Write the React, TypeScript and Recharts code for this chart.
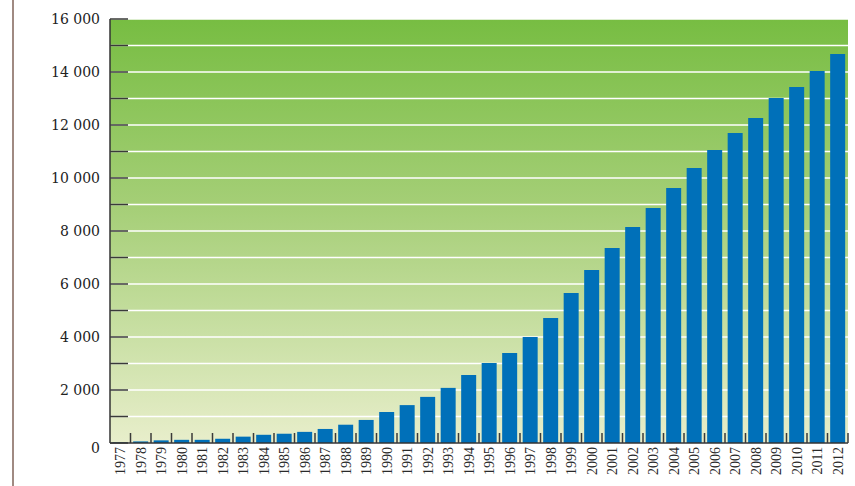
import { BarChart, Bar, XAxis, YAxis, CartesianGrid } from "recharts";

const years = [
  "1977", "1978", "1979", "1980", "1981", "1982", "1983", "1984", "1985", "1986",
  "1987", "1988", "1989", "1990", "1991", "1992", "1993", "1994", "1995", "1996",
  "1997", "1998", "1999", "2000", "2001", "2002", "2003", "2004", "2005", "2006",
  "2007", "2008", "2009", "2010", "2011", "2012",
];

const counts = [
  30, 60, 100, 120, 120, 160, 240, 310, 350, 420,
  530, 690, 870, 1170, 1430, 1740, 2080, 2570, 3020, 3400,
  4000, 4720, 5660, 6530, 7360, 8150, 8870, 9620, 10380, 11060,
  11700, 12260, 13020, 13430, 14040, 14680,
];

const yTicks = [0, 1000, 2000, 3000, 4000, 5000, 6000, 7000, 8000, 9000, 10000, 11000, 12000, 13000, 14000, 15000, 16000];

const data = years.map((y, i) => ({ year: y, value: counts[i] }));

const W = 855;
const H = 486;
const PLOT_LEFT = 110;
const PLOT_RIGHT = 848;
const BAND = (PLOT_RIGHT - PLOT_LEFT) / years.length;

// y axis: tick line inside the plot, label only every 2000
const YTick = (props: any) => {
  const { x, y, payload } = props;
  const v = payload.value as number;
  return (
    <g>
      <line x1={x} x2={x + 18} y1={y} y2={y} stroke="#3a3a3a" strokeWidth={1.5} />
      {v % 2000 === 0 && (
        <text
          x={x - 10}
          y={y + (v === 0 ? 5 : 0)}
          dy="0.35em"
          textAnchor="end"
          fontFamily="DejaVu Serif"
          fontSize={14}
          fill="#222"
        >
          {v === 0 ? "0" : `${Math.floor(v / 1000)} 000`}
        </text>
      )}
    </g>
  );
};

// x axis: small tick between bars, label rotated
const XTick = (props: any) => {
  const { x, y, payload } = props;
  const bx = x + BAND / 2;
  return (
    <g>
      <line x1={bx} x2={bx} y1={y - 10} y2={y} stroke="#3a3a3a" strokeWidth={1.5} />
      <text
        transform={`translate(${x + 5}, ${y + 4}) rotate(-90)`}
        textAnchor="end"
        fontFamily="Liberation Serif"
        fontSize={14}
        fill="#2a2a2a"
      >
        {payload.value}
      </text>
    </g>
  );
};

export default function App() {
  return (
    <div style={{ position: "absolute", left: 0, top: 0, width: W, height: H, background: "#fff" }}>
      <div
        style={{
          position: "absolute",
          left: 12,
          top: 0,
          width: 2,
          height: H,
          background: "#a08a82",
        }}
      />
      <BarChart
        width={W}
        height={H}
        data={data}
        margin={{ top: 19, right: W - PLOT_RIGHT, bottom: 0, left: 10 }}
        barCategoryGap="13%"
      >
        <defs>
          <linearGradient id="bg" x1="0" y1="0" x2="0" y2="1">
            <stop offset="0%" stopColor="#77bd42" />
            <stop offset="45%" stopColor="#a6cf78" />
            <stop offset="100%" stopColor="#e8eecb" />
          </linearGradient>
        </defs>
        <CartesianGrid
          vertical={false}
          stroke="#ffffff"
          strokeWidth={1.5}
          fill="url(#bg)"
          fillOpacity={1}
        />
        <XAxis
          dataKey="year"
          height={43}
          interval={0}
          tickSize={0}
          tickMargin={0}
          tick={<XTick />}
          axisLine={{ stroke: "#333", strokeWidth: 1.5 }}
        />
        <YAxis
          width={100}
          domain={[0, 16000]}
          ticks={yTicks}
          interval={0}
          tickSize={0}
          tickMargin={0}
          tick={<YTick />}
          axisLine={{ stroke: "#333", strokeWidth: 1.5 }}
        />
        <Bar dataKey="value" fill="#0070b9" isAnimationActive={false} />
      </BarChart>
    </div>
  );
}
